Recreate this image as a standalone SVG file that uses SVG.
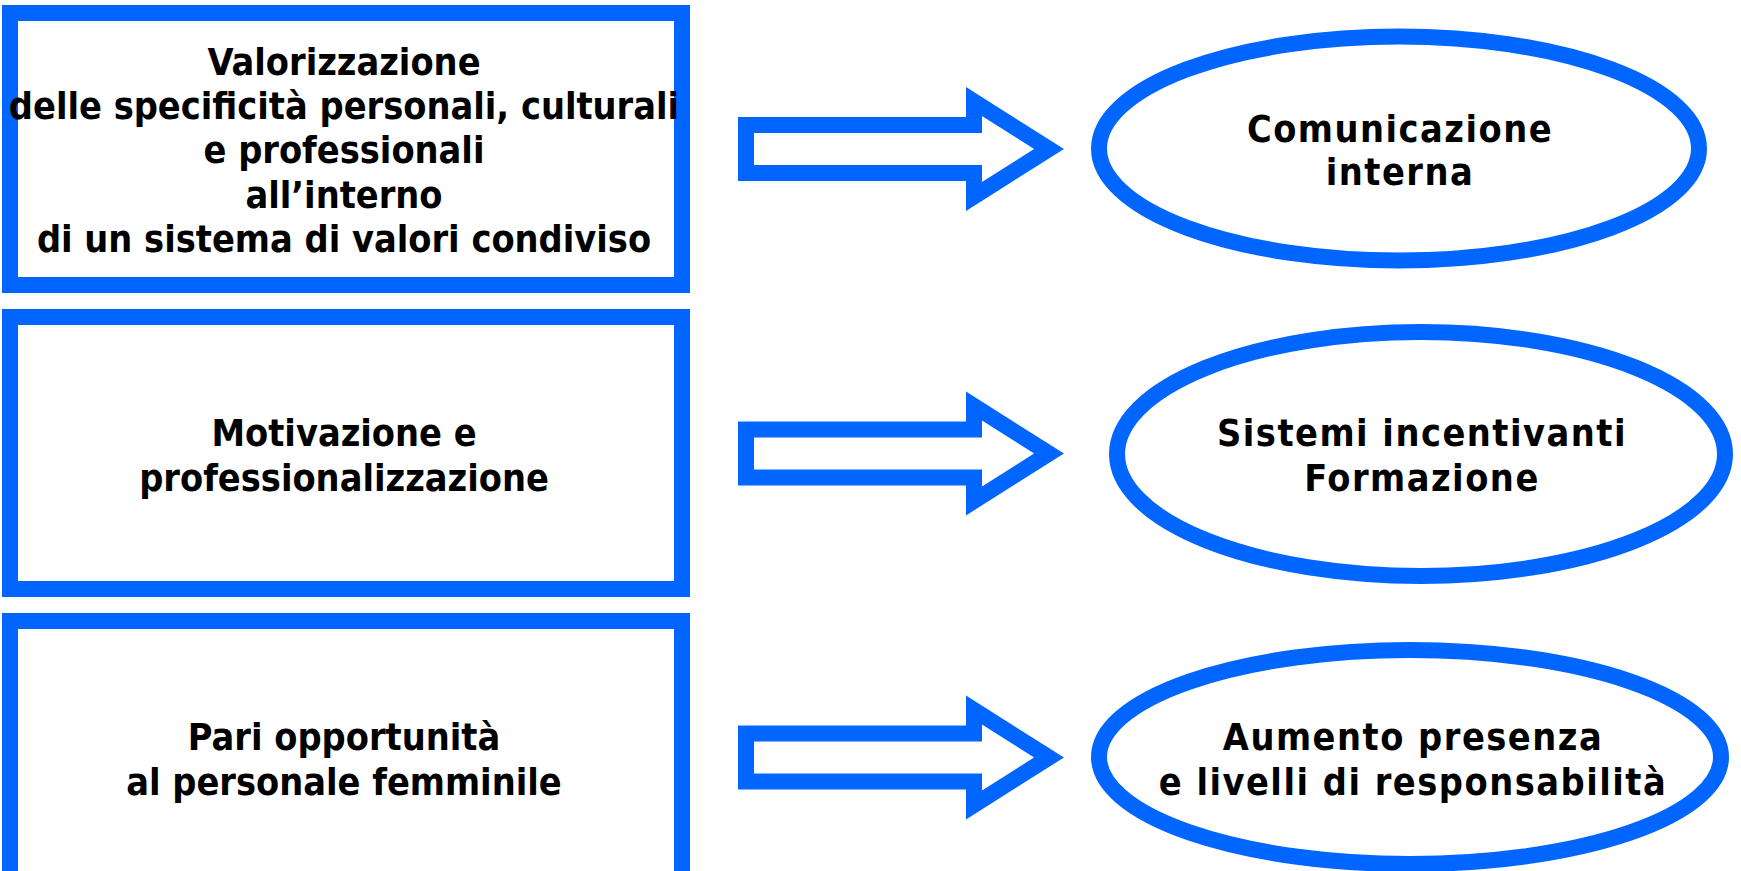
<svg xmlns="http://www.w3.org/2000/svg" width="1741" height="871" viewBox="0 0 1741 871">
<style>
.box{fill:#ffffff;stroke:#0066FF;stroke-width:16}
.ell{fill:#ffffff;stroke:#0066FF;stroke-width:16}
.arr{fill:#ffffff;stroke:#0066FF;stroke-width:16;stroke-miterlimit:10}
text{font-family:"DejaVu Sans Condensed","DejaVu Sans",sans-serif;font-stretch:condensed;font-weight:bold;font-size:37.5px;fill:#000000;text-anchor:middle}
.et{letter-spacing:1.5px}
</style>
<rect width="1741" height="871" fill="#ffffff"/>
<g id="box1">
<rect class="box" x="10" y="13" width="672" height="272"/>
<text x="344" y="75">Valorizzazione</text>
<text x="344" y="119">delle specificità personali, culturali</text>
<text x="344" y="163">e professionali</text>
<text x="344" y="208">all’interno</text>
<text x="344" y="252">di un sistema di valori condiviso</text>
</g>
<g id="box2">
<rect class="box" x="10" y="317" width="672" height="272"/>
<text x="344" y="446">Motivazione e</text>
<text x="344" y="491">professionalizzazione</text>
</g>
<g id="box3">
<rect class="box" x="10" y="621" width="672" height="272"/>
<text x="344" y="750">Pari opportunità</text>
<text x="344" y="795">al personale femminile</text>
</g>
<g id="ell1">
<ellipse class="ell" cx="1399" cy="148.5" rx="300" ry="112"/>
<text class="et" x="1400" y="142">Comunicazione</text>
<text class="et" x="1400" y="185">interna</text>
</g>
<g id="ell2">
<ellipse class="ell" cx="1421" cy="454" rx="304" ry="122"/>
<text class="et" x="1422" y="446">Sistemi incentivanti</text>
<text class="et" x="1422" y="491">Formazione</text>
</g>
<g id="ell3">
<ellipse class="ell" cx="1410" cy="757" rx="311" ry="107"/>
<text class="et" x="1413" y="750">Aumento presenza</text>
<text class="et" x="1413" y="795">e livelli di responsabilità</text>
</g>
<g id="connectors">
<polygon class="arr" points="746,125 974,125 974,101.6 1049,149 974,196.4 974,173 746,173"/>
<polygon class="arr" points="746,429.5 974,429.5 974,406.1 1049,453.5 974,500.9 974,477.5 746,477.5"/>
<polygon class="arr" points="746,733.5 974,733.5 974,710.1 1049,757.5 974,804.9 974,781.5 746,781.5"/>
</g>
</svg>
